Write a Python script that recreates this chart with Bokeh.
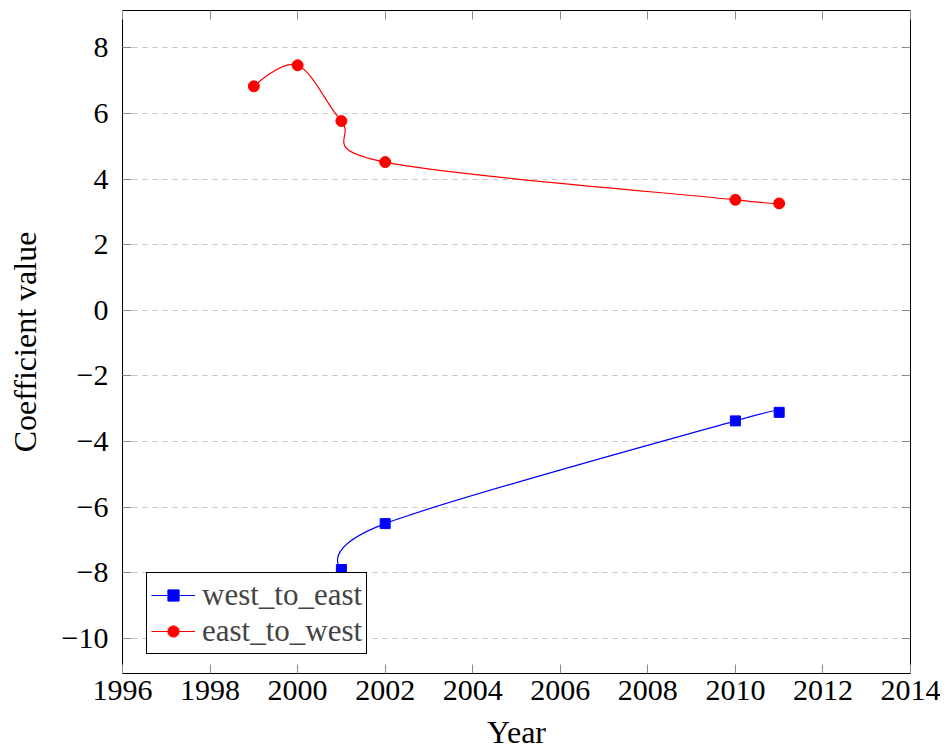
import numpy as np
from bokeh.plotting import figure
from bokeh.models import (Range1d, LinearAxis, FixedTicker, CustomJSTickFormatter,
                          Legend, LegendItem, ColumnDataSource)
from bokeh.embed import file_html
from bokeh.resources import INLINE

# ---- data ----
years_west_to_east = [2001, 2002, 2010, 2011]
west_to_east = [-7.90, -6.50, -3.37, -3.11]
years_east_to_west = [1999, 2000, 2001, 2002, 2010, 2011]
east_to_west = [6.83, 7.47, 5.77, 4.52, 3.37, 3.26]
series_names = ["west_to_east", "east_to_west"]
x_ticks = [1996, 1998, 2000, 2002, 2004, 2006, 2008, 2010, 2012, 2014]
y_ticks = [-10, -8, -6, -4, -2, 0, 2, 4, 6, 8]

TENSION = 0.17
FONT = "Liberation Serif"


def smooth_segments(xs, ys, k=TENSION):
    """Cubic Bezier segments through the data points (TikZ-like 'smooth')."""
    xs = np.asarray(xs, float)
    ys = np.asarray(ys, float)
    n = len(xs)
    tx = np.zeros(n)
    ty = np.zeros(n)
    for i in range(1, n - 1):
        tx[i] = xs[i + 1] - xs[i - 1]
        ty[i] = ys[i + 1] - ys[i - 1]
    return ColumnDataSource(dict(
        x0=xs[:-1], y0=ys[:-1], x1=xs[1:], y1=ys[1:],
        cx0=xs[:-1] + k * tx[:-1], cy0=ys[:-1] + k * ty[:-1],
        cx1=xs[1:] - k * tx[1:], cy1=ys[1:] - k * ty[1:],
    ))


p = figure(width=940, height=753, output_backend="svg", toolbar_location=None,
           x_range=Range1d(1996, 2014), y_range=Range1d(-11.07, 9.14),
           min_border_left=122, min_border_right=30, min_border_top=10,
           min_border_bottom=80)

p.outline_line_color = "black"
p.outline_line_width = 1
p.outline_line_alpha = 1

# grid
p.xgrid.visible = False
p.ygrid.ticker = FixedTicker(ticks=y_ticks)
p.ygrid.grid_line_color = "#c4c4c4"
p.ygrid.grid_line_dash = "5 5"
p.ygrid.grid_line_width = 1

minus_fmt = CustomJSTickFormatter(code="return tick < 0 ? '\u2212' + (-tick) : String(tick);")

for ax, ticks in ((p.xaxis[0], x_ticks), (p.yaxis[0], y_ticks)):
    ax.ticker = FixedTicker(ticks=ticks)
    ax.formatter = minus_fmt
    ax.major_tick_in = 9
    ax.major_tick_out = 0
    ax.minor_tick_line_color = None
    ax.major_tick_line_color = "#8a8a8a"
    ax.axis_line_color = None
    ax.major_label_text_font = FONT
    ax.major_label_text_font_size = "30px"
    ax.major_label_text_color = "black"
    ax.axis_label_text_font = FONT
    ax.axis_label_text_font_size = "32px"
    ax.axis_label_text_font_style = "normal"
    ax.axis_label_text_color = "black"

p.xaxis[0].axis_label = "Year"
p.yaxis[0].axis_label = "Coefficient value"
p.xaxis[0].major_label_standoff = 7
p.yaxis[0].major_label_standoff = 14
p.xaxis[0].axis_label_standoff = 11
p.yaxis[0].axis_label_standoff = 16

# mirrored tick marks on top and right
for loc, ticks in (("above", x_ticks), ("right", y_ticks)):
    ax = LinearAxis(ticker=FixedTicker(ticks=ticks))
    ax.major_tick_in = 9
    ax.major_tick_out = 0
    ax.minor_tick_line_color = None
    ax.major_tick_line_color = "#8a8a8a"
    ax.axis_line_color = None
    ax.major_label_text_font_size = "1px"
    ax.major_label_text_color = None
    ax.major_label_standoff = 0
    p.add_layout(ax, loc)

# series
src_we = smooth_segments(years_west_to_east, west_to_east)
src_ew = smooth_segments(years_east_to_west, east_to_west)

bez_we = p.bezier(x0="x0", y0="y0", x1="x1", y1="y1", cx0="cx0", cy0="cy0",
                  cx1="cx1", cy1="cy1", source=src_we, line_color="#0000ff", line_width=1.2)
sc_we = p.scatter(years_west_to_east, west_to_east, marker="square", size=10,
                  fill_color="#0000ff", line_color="#0000ff")

bez_ew = p.bezier(x0="x0", y0="y0", x1="x1", y1="y1", cx0="cx0", cy0="cy0",
                  cx1="cx1", cy1="cy1", source=src_ew, line_color="#ff0000", line_width=1.2)
sc_ew = p.scatter(years_east_to_west, east_to_west, marker="circle", size=11,
                  fill_color="#ff0000", line_color="#ff0000")

legend = Legend(items=[LegendItem(label=series_names[0], renderers=[bez_we, sc_we]),
                       LegendItem(label=series_names[1], renderers=[bez_ew, sc_ew])],
                location=(24, 19))
legend.label_text_font = FONT
legend.label_text_font_size = "31px"
legend.glyph_width = 44
legend.glyph_height = 28
legend.label_standoff = 7
legend.label_height = 28
legend.padding = 4
legend.spacing = 0
legend.margin = 0
legend.border_line_color = "black"
legend.border_line_width = 1
legend.border_line_alpha = 1
legend.background_fill_alpha = 1
p.add_layout(legend)

open("out.html", "w").write(file_html(p, INLINE))
